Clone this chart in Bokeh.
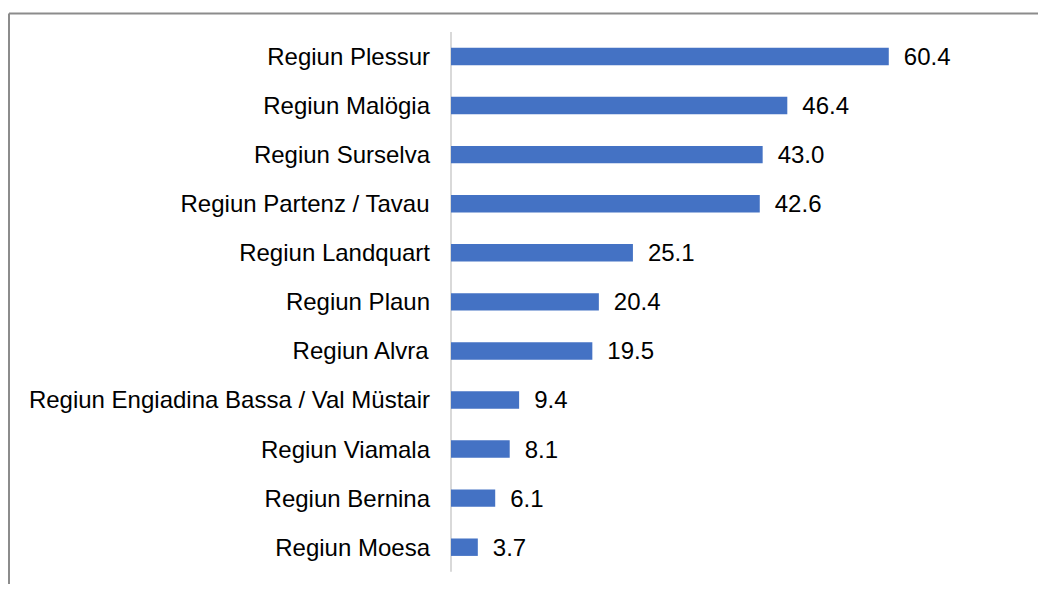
from bokeh.plotting import figure
from bokeh.models import Range1d, ColumnDataSource
from bokeh.core.properties import value
from bokeh.embed import file_html
from bokeh.resources import INLINE

regions = [
    "Regiun Plessur",
    "Regiun Malögia",
    "Regiun Surselva",
    "Regiun Partenz / Tavau",
    "Regiun Landquart",
    "Regiun Plaun",
    "Regiun Alvra",
    "Regiun Engiadina Bassa / Val Müstair",
    "Regiun Viamala",
    "Regiun Bernina",
    "Regiun Moesa",
]
values = [60.4, 46.4, 43.0, 42.6, 25.1, 20.4, 19.5, 9.4, 8.1, 6.1, 3.7]
value_labels = [f"{v:.1f}" for v in values]

ypos = list(range(len(regions)))
n = len(regions)

src = ColumnDataSource(dict(y=ypos, v=values, name=regions, lab=value_labels,
                            zero=[0] * n))

FONT = value("Liberation Sans")
FS = value("24px")

# layout constants (pixels)
W, H = 1038, 584
X0_PX, SX = 450.5, 7.248       # pixel of value 0, px per unit
Y0_PX, SY = 56.0, 49.07        # pixel of first category centre, px per step

x_start = -X0_PX / SX
x_end = (W - X0_PX) / SX
y_top = -Y0_PX / SY
y_bottom = (H - Y0_PX) / SY

p = figure(width=W, height=H, output_backend="svg", toolbar_location=None,
           x_range=Range1d(x_start, x_end), y_range=Range1d(y_bottom, y_top),
           min_border_left=0, min_border_right=0, min_border_top=0,
           min_border_bottom=0)
p.xaxis.visible = False
p.yaxis.visible = False
p.xgrid.visible = False
p.ygrid.visible = False
p.outline_line_color = None
p.background_fill_color = "white"
p.border_fill_color = "white"

# chart border (left and top edges visible in the window)
bx = -(X0_PX - 8.5) / SX
by = (13.0 - Y0_PX) / SY
p.segment(x0=[bx, bx], y0=[by, by], x1=[bx, x_end], y1=[y_bottom, by],
          line_color="#8c8c8c", line_width=2)

# category axis line
p.segment(x0=0, y0=-0.5, x1=0, y1=n - 0.5, line_color="#d9d9d9", line_width=2)

p.hbar(y="y", left="zero", right="v", height=0.355, source=src,
       fill_color="#4472C4", line_color=None)

p.text(x="zero", y="y", text="name", source=src, x_offset=-21,
       text_align="right", text_baseline="middle", text_font=FONT,
       text_font_size=FS, text_color="#000000")
p.text(x="v", y="y", text="lab", source=src, x_offset=15,
       text_align="left", text_baseline="middle", text_font=FONT,
       text_font_size=FS, text_color="#000000")

open("out.html", "w").write(file_html(p, INLINE))
